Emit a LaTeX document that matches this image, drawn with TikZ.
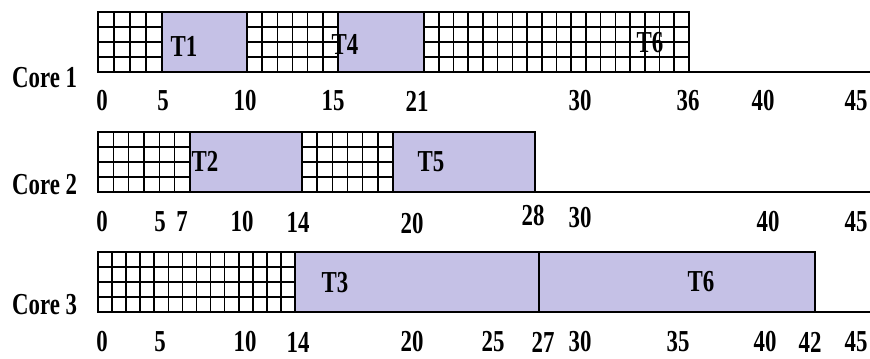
\documentclass[tikz,border=0pt]{standalone}
\usepackage{fontspec}
\setmainfont{Liberation Serif}
\usepackage{xcolor}
\usepackage{tikz}
\usetikzlibrary{positioning,calc}

\definecolor{taskfill}{RGB}{197,193,230}

\begin{document}
\begin{tikzpicture}[x=0.03cm,y=-0.03cm,
    lbl/.style={font=\fontsize{26}{28}\selectfont\bfseries,xscale=0.75,transform shape,inner sep=0pt},
    gridline/.style={line width=1.4pt,draw=black},
    taskbox/.style={line width=1.4pt,draw=black,fill=taskfill}]
    \useasboundingbox (0,0) rectangle (870,358);

    % idle slots (grid)
    \foreach \xa/\xb/\yt in {98/162/12, 247/338/12, 424/689/12, 98/190/132, 302/393/132, 98/295/252}{
        \pgfmathtruncatemacro\ncol{round((\xb-\xa)/14.5)}
        \pgfmathsetmacro\dx{(\xb-\xa)/\ncol}
        \draw[gridline,fill=white] (\xa,\yt) rectangle (\xb,\yt+60);
        \foreach \j in {15,30,45}
            \draw[gridline] (\xa,\yt+\j) -- (\xb,\yt+\j);
        \foreach \i in {1,...,\ncol}
            \draw[gridline] (\xa+\i*\dx,\yt) -- (\xa+\i*\dx,\yt+60);
    }

    % Core 1
    \draw[taskbox] (162,12) rectangle (247,72);
    \draw[taskbox] (338,12) rectangle (424,72);
    \draw[gridline] (689,72) -- (870,72);
    \node (t1) at (184,46) [lbl] {T1};
    \node (t4) at (345,44) [lbl] {T4};
    \node (t6a) at (650,43) [lbl] {T6};
    \node (core1) at (12,78) [lbl,anchor=west] {Core 1};
    \foreach \x/\t in {102/0,163/5,245/10,333/15,417/21,580/30,688/36,763/40,856/45}
        \node (ta-\t) at (\x,101) [lbl] {\t};

    % Core 2
    \draw[taskbox] (190,132) rectangle (302,192);
    \draw[taskbox] (393,132) rectangle (535,192);
    \draw[gridline] (535,192) -- (870,192);
    \node (t2) at (205,161) [lbl] {T2};
    \node (t5) at (431,162) [lbl] {T5};
    \node (core2) at (12,185) [lbl,anchor=west] {Core 2};
    \foreach \x/\y/\t in {102/222/0,160/222/5,182/222/7,242/222/10,298/222/14,412/224/20,533/216/28,580/218/30,768/222/40,856/222/45}
        \node (tb-\t) at (\x,\y) [lbl] {\t};

    % Core 3
    \draw[taskbox] (295,252) rectangle (539,312);
    \draw[taskbox] (539,252) rectangle (815,312);
    \draw[gridline] (815,312) -- (870,312);
    \node (t3) at (335,283) [lbl] {T3};
    \node (t6b) at (701,282) [lbl] {T6};
    \node (core3) at (12,305) [lbl,anchor=west] {Core 3};
    \foreach \x/\t in {102/0,160/5,245/10,298/14,412/20,493/25,543/27,580/30,678/35,765/40,810/42,856/45}
        \node (tc-\t) at (\x,342) [lbl] {\t};
\end{tikzpicture}
\end{document}
